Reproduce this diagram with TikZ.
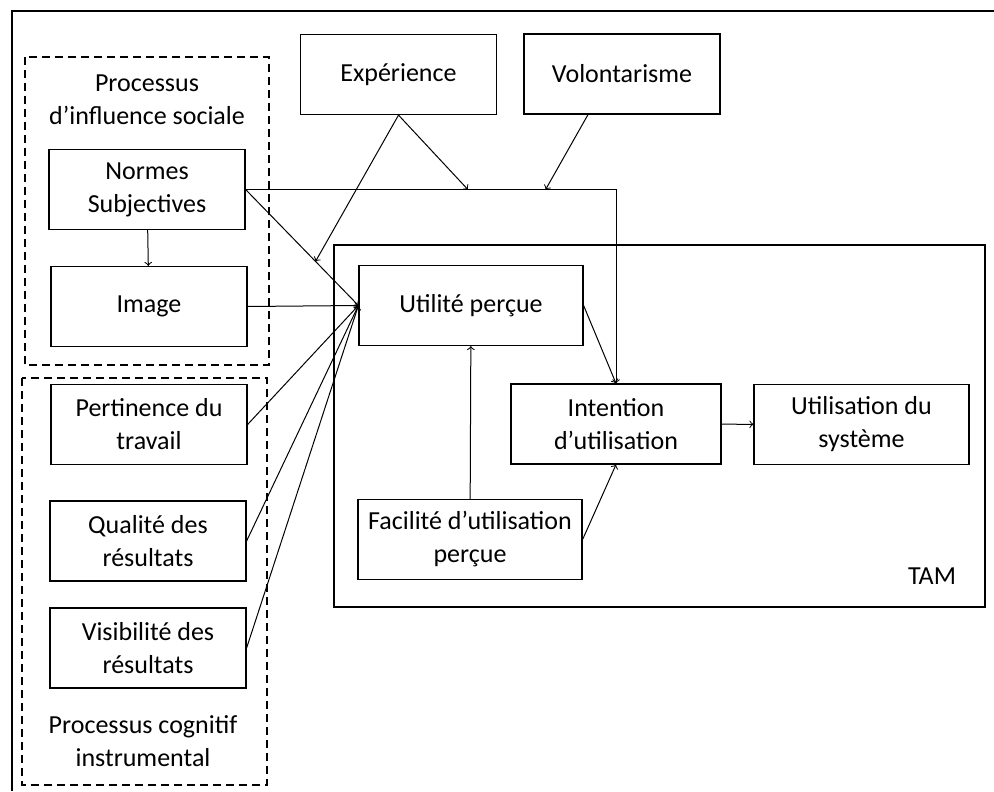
\documentclass[tikz,border=0pt]{standalone}
\usepackage{fontspec}
\setmainfont{Carlito}
\usetikzlibrary{calc}
\tikzset{
  box/.style={draw, line width=0.6pt, minimum width=98pt, minimum height=40pt, align=center, inner sep=2pt},
  group/.style={draw, line width=0.6pt, dash pattern=on 4pt off 2.5pt},
  link/.style={->, line width=0.5pt},
}

\begin{document}
\begin{tikzpicture}[x=0.5pt, y=-0.5pt, font=\fontsize{13}{16.5}\selectfont]
		%%%%% START %%%%%
		\useasboundingbox (0,0) rectangle (994,791);
		
		\draw[line width=0.9pt] (12,791) -- (12,11) -- (994,11);
		
		\draw[group] (25,57) rectangle (269,365);
		\draw[group] (22,378) rectangle (267,785);
		\draw[line width=1pt] (334,245) rectangle (985,607);
		
		\node[align=center] (social) at (147,100) {Processus\\d’influence sociale};
		\node[align=center] (cognitif) at (143,741) {Processus cognitif\\instrumental};
		\node (tam) at (932,576) {TAM};
		
		\node[box] (experience) at (398.5,74.5) {Expérience};
		\node[box] (volontarisme) at (622,74) {Volontarisme};
		
		\node[box] (normes) at (147,189.5) {Normes\\Subjectives};
		\node[box] (image) at (149,306.5) {Image};
		\node[box] (pertinence) at (149,424.5) {Pertinence du\\travail};
		\node[box] (qualite) at (148,541) {Qualité des\\résultats};
		\node[box] (visibilite) at (148,648) {Visibilité des\\résultats};
		
		\node[box, minimum width=112pt] (utilite) at (471,305.5) {Utilité perçue};
		\node[box, minimum width=112pt] (facilite) at (470,539.5) {Facilité d’utilisation\\perçue};
		\node[box, minimum width=105pt] (intention) at (616,424) {Intention\\d’utilisation};
		\node[box, minimum width=107.5pt] (usage) at (861.5,424.5) {Utilisation du\\système};
		
		\coordinate (corner) at (intention.north |- normes.east);
		\coordinate (m1) at ($(normes.east)!0.6!(corner)$);
		\coordinate (m2) at ($(normes.east)!0.81!(corner)$);
		\coordinate (m3) at ($(normes.east)!0.62!(utilite.west)$);
		
		\draw[link] (normes) -- (image);
		\draw[link] (normes.east) -- (corner) -- (intention.north);
		\draw[link] (normes.east) -- (utilite.west);
		\draw[link] (image.east) -- (utilite.west);
		\draw[link] (pertinence.east) -- (utilite.west);
		\draw[link] (qualite.east) -- (utilite.west);
		\draw[link] (visibilite.east) -- (utilite.west);
		
		\draw[link] (experience.south) -- (m1);
		\draw[link] (experience.south) -- (m3);
		\draw[link] ([xshift=-17pt]volontarisme.south) -- (m2);
		
		\draw[link] (utilite.east) -- (intention.north);
		\draw[link] (facilite) -- (utilite);
		\draw[link] (facilite.east) -- (intention.south);
		\draw[link] (intention) -- (usage);
		
		%%%%% END %%%%%
\end{tikzpicture}
\end{document}
